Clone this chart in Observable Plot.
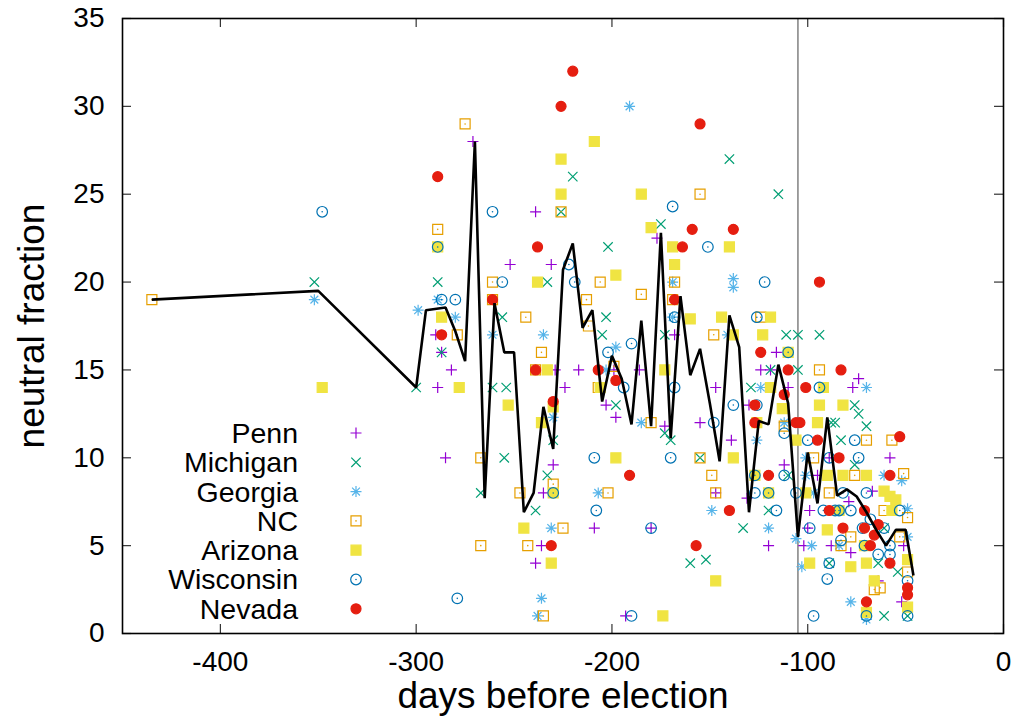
<!DOCTYPE html>
<html><head><meta charset="utf-8">
<script src="https://cdn.jsdelivr.net/npm/d3@7"></script>
<script src="https://cdn.jsdelivr.net/npm/@observablehq/plot@0.6"></script>
<style>
body{margin:0;background:#fff;}
#chart svg{display:block;}
</style></head><body><div id="chart"></div>
<script>
// ---- data: [days before election, neutral fraction] ----
const penn = [[-271,28],[-239,24],[-252,21],[-231,21],[-290,17],[-287,16],[-282,15],[-229,15],[-217,15],[-289,14],[-224,14],[-285,10],[-230,9.6],[-235,8],[-209,6],[-236,5],[-239,4],
[-177,22.5],[-168,17],[-116,16],[-199,15],[-186,15],[-124,15],[-119,15],[-147,14],[-110,14],[-203,13],[-130,13],[-198,12.3],[-173,11.8],[-155,12],[-139,11],[-112,9.6],[-147,8],[-131,7.7],[-180,6],[-120,5],[-193,1],
[-74,14.5],[-77,14],[-89,10],[-58,10],[-95,9],[-67,8.1],[-99,7],[-79,7.5],[-100,6],[-102,5],[-88,5],[-51,5],[-78,4.6],[-64,3],[-52,1.8]];
const michigan = [[-352,20],[-300,14],[-220,26],[-226,24],[-289,20],[-233,20],[-256,18],[-287,16],[-261,14],[-254,14],[-230,11],[-255,10],[-233,9],[-267,8],[-239,7],
[-140,27],[-115,25],[-175,23.3],[-202,22],[-203,18],[-205,17],[-173,17],[-111,17],[-105,17],[-119,15],[-105,15],[-129,14],[-198,13],[-173,11.4],[-170,11],[-155,10],[-110,9],[-120,7],[-133,6],[-160,4],[-152,4.2],
[-94,17],[-76,13],[-74,12.5],[-88,12],[-86,12],[-70,11.8],[-83,11],[-76,9.6],[-61,6],[-89,4],[-64,4],[-54,3.5],[-61,1],[-49,1]];
const georgia = [[-352,19],[-299,18.4],[-289,19],[-280,18],[-261,17],[-235,17],[-230,12.3],[-231,6],[-236,2],[-238,1],[-207,8],
[-191,30],[-169,20],[-138,20.2],[-138,19.7],[-169,18],[-141,17],[-198,16.3],[-203,15],[-124,14],[-185,12],[-112,12],[-126,11],[-149,7],[-120,6],[-106,5.4],
[-70,14],[-101,10],[-101,9],[-61,9],[-52,8.7],[-97,8],[-49,7.1],[-49,5.5],[-98,5],[-84,5],[-103,3.8],[-78,1.8],[-70,0.8]];
const nc = [[-435,19],[-275,29],[-226,24],[-289,23],[-261,20],[-206,20],[-261,19],[-213,19],[-279,17],[-244,18],[-236,16],[-239,15],[-207,14],[-267,10],[-230,8.5],[-247,8],[-225,6],[-267,5],[-243,5],[-235,1],
[-155,25],[-185,19.3],[-168,20],[-169,19],[-124,18],[-212,17.5],[-148,17],[-199,15.2],[-119,14],[-180,12],[-112,11.8],[-155,10],[-149,9],[-202,8],[-147,8],
[-94,15],[-70,11],[-57,11],[-97,10],[-76,9],[-51,9.1],[-89,8],[-61,7],[-49,6.6],[-83,5],[-78,5.5],[-53,5.5],[-49,3.5],[-66,2.5],[-63,2.6]];
const arizona = [[-348,14],[-209,28],[-226,27],[-226,25],[-289,22],[-238,20],[-287,18],[-233,15],[-278,14],[-253,13],[-230,12.9],[-236,12],[-230,8],[-245,6],[-231,4],
[-185,25],[-180,23.1],[-169,22],[-140,22],[-168,21],[-198,20.4],[-160,17.9],[-144,18],[-119,18],[-138,17],[-123,17],[-110,16],[-173,15],[-206,14],[-119,14],[-113,12.8],[-126,12],[-106,11],[-198,10],[-138,10],[-127,9],[-120,8],[-147,3],[-174,1],
[-92,14],[-94,13],[-82,13],[-95,12],[-90,9],[-82,9],[-70,9],[-101,8],[-61,8.1],[-58,7.8],[-55,7.6],[-57,7],[-84,7],[-90,5.9],[-71,5],[-99,4],[-78,3.8],[-70,4],[-49,4.2],[-66,3],[-49,1.5],[-70,1.2]];
const wisconsin = [[-348,24],[-261,24],[-289,22],[-222,21],[-256,20],[-219,20],[-287,19],[-280,19],[-230,8],[-279,2],[-209,10],[-208,7],
[-169,24.3],[-151,22],[-122,20],[-168,18],[-126,18],[-190,16.5],[-202,16],[-110,16],[-194,14],[-168,14],[-138,13],[-126,13],[-148,12],[-112,11.4],[-170,10],[-127,9],[-112,9],[-127,8],[-120,8],[-106,8],[-116,7],[-180,6],[-190,1],
[-94,14],[-100,11],[-76,11],[-89,10],[-74,10],[-82,8],[-70,8],[-92,7],[-86,7],[-84,7],[-78,7],[-53,7],[-68,6.5],[-99,6],[-72,6],[-61,6],[-83,5.3],[-71,5],[-58,5],[-89,4],[-64,4.5],[-58,4.5],[-90,3.1],[-49,3],[-97,1],[-70,1],[-49,1]];
const nevada = [[-220,32],[-226,30],[-289,26],[-238,22],[-261,19],[-287,17],[-239,15],[-207,15],[-230,13.2],[-231,5],
[-155,29],[-159,23],[-138,23],[-164,22],[-168,19],[-124,16],[-110,15],[-198,14.4],[-112,13.6],[-127,13],[-127,12],[-106,12],[-191,9],[-120,9],[-140,7],[-157,5],
[-94,20],[-83,15],[-101,14],[-104,12],[-95,11],[-53,11.2],[-84,10],[-58,9],[-89,7],[-71,7],[-64,6.2],[-82,6],[-71,6],[-68,5],[-66,5.6],[-58,4],[-49,2.6],[-49,2.2],[-70,1.8]];
// average line
const average = [[-435,19],[-350,19.5],[-300,14],[-295,18.4],[-285,18.55],[-280,17.2],[-275,15.5],[-270,28],[-265,7.7],[-260,18.8],[-255,16],[-250,16],[-245,6.9],[-240,8],[-235,12.9],[-230,10.5],[-225,20.7],[-220,22.2],[-215,17.4],[-210,18.4],[-205,13.2],[-200,15.8],[-195,14.5],[-190,11.9],[-185,17.8],[-180,11.8],[-175,22.8],[-170,11.1],[-165,19.2],[-160,14.7],[-155,16.2],[-150,13.1],[-145,9.8],[-140,18.1],[-135,16.3],[-130,6.9],[-125,12.1],[-120,11.9],[-115,15.3],[-110,13.1],[-105,5.5],[-100,10.3],[-95,7.4],[-90,12.3],[-85,7.85],[-80,8.2],[-75,7.8],[-70,6.9],[-65,5.9],[-60,5.0],[-55,5.9],[-50,5.9],[-46,3.3]];
const cutoff = [-105];
const xTicks = [-400,-300,-200,-100,0];
const yTicks = [0,5,10,15,20,25,30,35];
const stateNames = ["Penn","Michigan","Georgia","NC","Arizona","Wisconsin","Nevada"];

// ---- styles ----
const FONT = "'Liberation Sans', Arial, Helvetica, sans-serif";
const sym = {
  plus:{draw(c){const r=5.5;c.moveTo(-r,0);c.lineTo(r,0);c.moveTo(0,-r);c.lineTo(0,r);}},
  times:{draw(c){const r=4.7;c.moveTo(-r,-r);c.lineTo(r,r);c.moveTo(-r,r);c.lineTo(r,-r);}},
  asterisk:{draw(c){const r=5.5,d=3.9;c.moveTo(-r,0);c.lineTo(r,0);c.moveTo(0,-r);c.lineTo(0,r);c.moveTo(-d,-d);c.lineTo(d,d);c.moveTo(-d,d);c.lineTo(d,-d);}},
  square:{draw(c){const r=5;c.moveTo(-r,-r);c.lineTo(r,-r);c.lineTo(r,r);c.lineTo(-r,r);c.closePath();}},
  circle:{draw(c){const r=5.3;c.moveTo(r,0);c.arc(0,0,r,0,2*Math.PI);}},
  disc:{draw(c){const r=5;c.moveTo(r,0);c.arc(0,0,r,0,2*Math.PI);}},
  dot:{draw(c){const r=0.8;c.moveTo(r,0);c.arc(0,0,r,0,2*Math.PI);}}
};
const series = [
  {data: penn, color:"#9400D3", symbol: sym.plus, filled:false},
  {data: michigan, color:"#009E73", symbol: sym.times, filled:false},
  {data: georgia, color:"#56B4E9", symbol: sym.asterisk, filled:false},
  {data: nc, color:"#E69F00", symbol: sym.square, filled:false, centerDot:true},
  {data: arizona, color:"#F0E442", symbol: sym.square, filled:true},
  {data: wisconsin, color:"#0072B2", symbol: sym.circle, filled:false, centerDot:true},
  {data: nevada, color:"#E51E10", symbol: sym.disc, filled:true}
];

const W = 1014, H = 725, mL = 122, mR = 11, mT = 18, mB = 92;
const fw = W - mL - mR, fh = H - mT - mB, tickLen = 9;
const TICK_FS = 28, LABEL_FS = 37, KEY_FS = 28.5;

const marks = [];
series.forEach(s => {
  marks.push(Plot.dot(s.data, {x: d => d[0], y: d => d[1], symbol: s.symbol, r: 5,
    stroke: s.color, fill: s.filled ? s.color : "none", strokeWidth: 1.2}));
  if (s.centerDot) marks.push(Plot.dot(s.data, {x: d => d[0], y: d => d[1], symbol: sym.dot, r: 1, fill: s.color, stroke: "none"}));
});

const chart = Plot.plot({
  width: W, height: H,
  marginLeft: mL, marginRight: mR, marginTop: mT, marginBottom: mB,
  style: {fontFamily: FONT, fontSize: TICK_FS + "px", background: "#fff", color: "#000", overflow: "visible"},
  x: {domain: [-450, 0]},
  y: {domain: [0, 35]},
  marks: [
    Plot.ruleX(cutoff, {stroke: "#808080", strokeWidth: 1.5}),
    ...marks,
    Plot.line(average, {x: d => d[0], y: d => d[1], stroke: "#000", strokeWidth: 2.6, strokeLinejoin: "miter", strokeLinecap: "butt"}),
    Plot.ruleX(xTicks, {stroke: "#333", strokeWidth: 1.2, insetTop: fh - tickLen}),
    Plot.ruleX(xTicks, {stroke: "#333", strokeWidth: 1.2, insetBottom: fh - tickLen}),
    Plot.ruleY(yTicks, {stroke: "#333", strokeWidth: 1.2, insetRight: fw - tickLen}),
    Plot.ruleY(yTicks, {stroke: "#333", strokeWidth: 1.2, insetLeft: fw - tickLen}),
    Plot.frame({stroke: "#000", strokeWidth: 1.6}),
    Plot.axisX(xTicks, {tickSize: 0, tickPadding: 18, fontSize: TICK_FS, label: null, tickFormat: d => String(d)}),
    Plot.axisY(yTicks, {tickSize: 0, tickPadding: 18, fontSize: TICK_FS, label: null, tickFormat: d => String(d)}),
    Plot.text(["days before election"], {text: d => d, frameAnchor: "bottom", dy: 74, fontSize: LABEL_FS}),
    Plot.text(["neutral fraction"], {text: d => d, frameAnchor: "left", textAnchor: "middle", dx: -90, rotate: -90, fontSize: LABEL_FS})
  ]
});
document.getElementById("chart").appendChild(chart);

// legend (gnuplot key, bottom-left inside the frame)
const lg = d3.select(chart).append("g").attr("font-family", FONT).attr("font-size", KEY_FS);
series.forEach((s, i) => {
  const y = 433 + i * 29.3;
  lg.append("text").attr("x", 298).attr("y", y).attr("dy", "0.35em").attr("text-anchor", "end").attr("fill", "#000").text(stateNames[i]);
  lg.append("path").attr("transform", `translate(356,${y})`).attr("d", d3.symbol(s.symbol)())
    .attr("fill", s.filled ? s.color : "none").attr("stroke", s.color).attr("stroke-width", 1.2);
  if (s.centerDot) lg.append("path").attr("transform", `translate(356,${y})`).attr("d", d3.symbol(sym.dot)()).attr("fill", s.color);
});
</script></body></html>
